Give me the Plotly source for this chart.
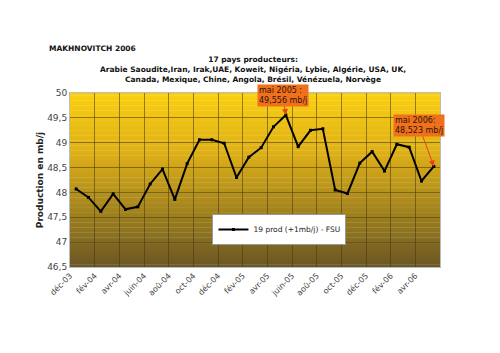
import plotly.graph_objects as go

months = ["déc-03","jan-04","fév-04","mar-04","avr-04","mai-04","juin-04","juil-04","aoû-04","sep-04",
          "oct-04","nov-04","déc-04","jan-05","fév-05","mar-05","avr-05","mai-05","juin-05","juil-05",
          "aoû-05","sep-05","oct-05","nov-05","déc-05","jan-06","fév-06","mar-06","avr-06","mai-06"]
production = [48.07, 47.90, 47.62, 47.97, 47.66, 47.71, 48.17, 48.47, 47.86, 48.58,
              49.06, 49.06, 48.99, 48.30, 48.71, 48.90, 49.32, 49.556, 48.92, 49.25,
              49.28, 48.05, 47.98, 48.59, 48.82, 48.43, 48.97, 48.91, 48.23, 48.523]
tick_labels = ["déc-03","fév-04","avr-04","juin-04","aoû-04","oct-04","déc-04","fév-05",
               "avr-05","juin-05","aoû-05","oct-05","déc-05","fév-06","avr-06",""]
series_name = "19 prod (+1mb/j) - FSU"

xs = list(range(len(months)))
tickvals = [-0.5 + 2 * k for k in range(len(tick_labels))]

fig = go.Figure()
fig.add_trace(go.Scatter(
    x=xs, y=production, mode="lines+markers", name=series_name,
    line=dict(color="black", width=2),
    marker=dict(symbol="square", size=3, color="black"),
    customdata=months,
))

# gradient background via stacked rectangles
def hex2rgb(h):
    h = h.lstrip("#")
    return [int(h[i:i+2], 16) for i in (0, 2, 4)]
stops = [(0.0, "#FBCF10"), (0.35, "#DDAF17"), (0.7, "#9E801E"), (1.0, "#6A5624")]
def color_at(t):
    for (t0, c0), (t1, c1) in zip(stops[:-1], stops[1:]):
        if t0 <= t <= t1:
            f = (t - t0) / (t1 - t0)
            a, b = hex2rgb(c0), hex2rgb(c1)
            return "rgb(%d,%d,%d)" % tuple(round(a[i] + (b[i] - a[i]) * f) for i in range(3))
    return stops[-1][1]
N = 70
shapes = []
for i in range(N):
    t = (i + 0.5) / N
    shapes.append(dict(type="rect", xref="x domain", yref="y domain",
                       x0=0, x1=1, y0=1 - (i + 1) / N - 0.002, y1=1 - i / N,
                       fillcolor=color_at(t), line=dict(width=0), layer="below"))

fig.update_layout(
    width=500, height=353,
    margin=dict(l=70, r=60, t=93, b=86),
    paper_bgcolor="white", plot_bgcolor="rgba(0,0,0,0)",
    separators=", ",
    font=dict(family="DejaVu Sans", size=9, color="#333333"),
    shapes=shapes,
    showlegend=True,
    legend=dict(x=0.385, y=0.305, xanchor="left", yanchor="top",
                bgcolor="white", bordercolor="#999999", borderwidth=1,
                font=dict(size=7.5, color="#222222"), itemwidth=30,
                tracegroupgap=0),
    xaxis=dict(range=[-0.5, len(months) - 0.5], tickmode="array", tickvals=tickvals,
               ticktext=tick_labels, tickangle=-45, showgrid=True,
               gridcolor="rgba(70,55,15,0.55)", gridwidth=1, zeroline=False,
               showline=True, linecolor="#bbbbbb", mirror=True, ticks="",
               tickfont=dict(size=8, color="#444444")),
    yaxis=dict(range=[46.5, 50], dtick=0.5, tickformat=".1~f", showgrid=True,
               gridcolor="rgba(70,55,15,0.55)", gridwidth=1, zeroline=False,
               showline=True, linecolor="#bbbbbb", mirror=True, ticks="",
               tickfont=dict(size=9, color="#444444"),
               title=dict(text="<b>Production en mb/j</b>", font=dict(size=9, color="#222222"), standoff=2)),
)

fig.add_annotation(xref="paper", yref="paper", x=(47 - 70) / 370, y=(267 - 48) / 174,
                   xanchor="left", yanchor="middle",
                   text="<b>MAKHNOVITCH 2006</b>", showarrow=False, font=dict(size=7.5, color="#111111"))
fig.add_annotation(xref="paper", yref="paper", x=(253 - 70) / 370, y=1, yshift=7, yanchor="bottom",
                   text="<b>17 pays producteurs:<br>Arabie Saoudite,Iran, Irak,UAE, Koweit, Nigéria, Lybie, Algérie, USA, UK,<br>Canada, Mexique, Chine, Angola, Brésil, Vénézuela, Norvège</b>",
                   showarrow=False, font=dict(size=7.5, color="#111111"), align="center")

fig.add_annotation(x=17, y=49.556, text="mai 2005 :<br>49,556 mb/j", showarrow=True,
                   ax=-3, ay=-20, xanchor="center", yanchor="middle",
                   arrowcolor="#E8441A", arrowhead=2, arrowsize=1.2, arrowwidth=1,
                   bgcolor="#F0701E", font=dict(size=8, color="#2a1500"), align="left", borderpad=1)
fig.add_annotation(x=29, y=48.523, text="mai 2006:<br>48,523 mb/j", showarrow=True,
                   ax=-15, ay=-41, xanchor="center", yanchor="middle",
                   arrowcolor="#E8441A", arrowhead=2, arrowsize=1.2, arrowwidth=1,
                   bgcolor="#F0701E", font=dict(size=8, color="#2a1500"), align="left", borderpad=1)

fig.write_html("out.html")
